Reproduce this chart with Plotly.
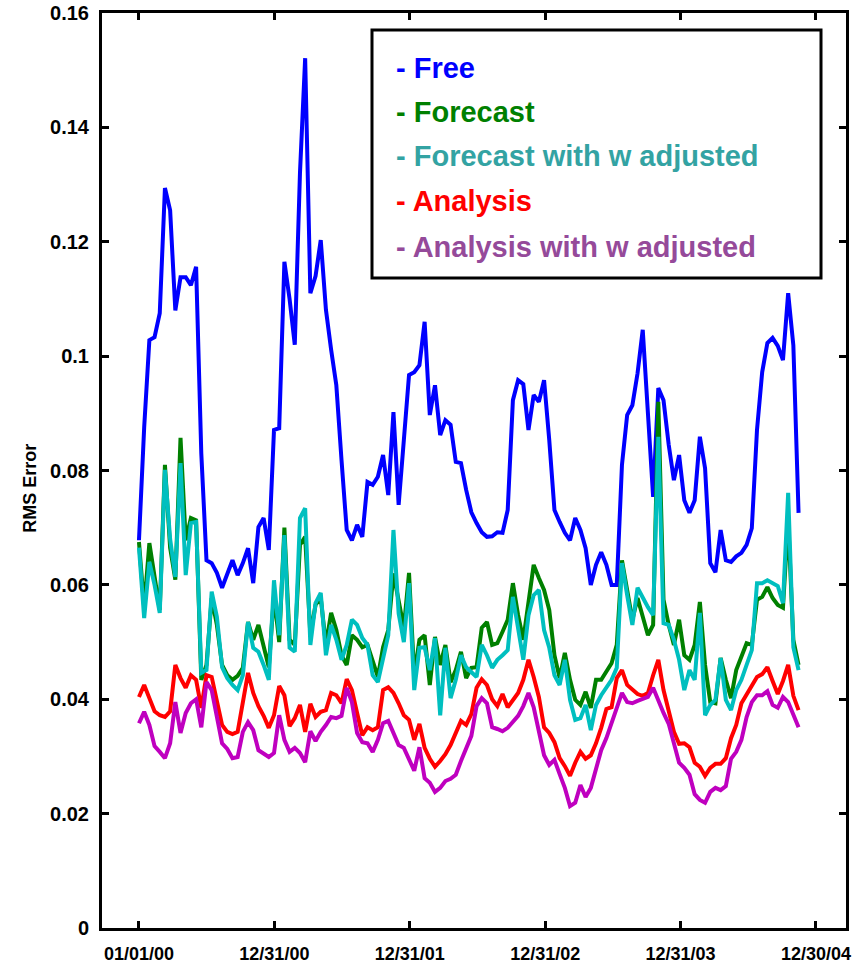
import pandas as pd
import plotly.graph_objects as go

# ---------------- data ----------------
start_date = "2000-01-01"
n_points = 128
step = "14D"
dates = pd.date_range(start_date, periods=n_points, freq=step)

free = [
    0.0678, 0.0875, 0.1028, 0.1033, 0.1075, 0.1294, 0.1255, 0.1080, 0.1138, 0.1138,
    0.1124, 0.1156, 0.0830, 0.0643, 0.0638, 0.0621, 0.0595, 0.0617, 0.0643, 0.0617,
    0.0638, 0.0664, 0.0603, 0.0701, 0.0717, 0.0661, 0.0871, 0.0874, 0.1165, 0.1100,
    0.1020, 0.1320, 0.1521, 0.1110, 0.1140, 0.1203, 0.1081, 0.1011, 0.0949, 0.0818,
    0.0696, 0.0678, 0.0705, 0.0684, 0.0780, 0.0775, 0.0789, 0.0827, 0.0757, 0.0902,
    0.0740, 0.0853, 0.0967, 0.0972, 0.0984, 0.1060, 0.0897, 0.0949, 0.0862, 0.0888,
    0.0880, 0.0815, 0.0813, 0.0766, 0.0727, 0.0708, 0.0692, 0.0684, 0.0685, 0.0692,
    0.0691, 0.0731, 0.0923, 0.0958, 0.0951, 0.0871, 0.0932, 0.0920, 0.0958, 0.0853,
    0.0731, 0.0710, 0.0691, 0.0678, 0.0717, 0.0696, 0.0664, 0.0600, 0.0635, 0.0657,
    0.0635, 0.0600, 0.0600, 0.0810, 0.0897, 0.0914, 0.0970, 0.1046, 0.0888, 0.0754,
    0.0944, 0.0923, 0.0845, 0.0783, 0.0827, 0.0748, 0.0726, 0.0748, 0.0859, 0.0804,
    0.0638, 0.0622, 0.0696, 0.0643, 0.0640, 0.0650, 0.0656, 0.0670, 0.0699, 0.0871,
    0.0972, 0.1023, 0.1032, 0.1018, 0.0993, 0.1110, 0.1019, 0.0726,
]

forecast = [
    0.0675, 0.0560, 0.0673, 0.0610, 0.0556, 0.0810, 0.0665, 0.0609, 0.0857, 0.0678,
    0.0717, 0.0713, 0.0434, 0.0460, 0.0577, 0.0530, 0.0460, 0.0442, 0.0434, 0.0441,
    0.0455, 0.0535, 0.0504, 0.0530, 0.0495, 0.0456, 0.0582, 0.0500, 0.0700, 0.0504,
    0.0495, 0.0670, 0.0684, 0.0512, 0.0565, 0.0577, 0.0495, 0.0551, 0.0521, 0.0477,
    0.0460, 0.0512, 0.0504, 0.0491, 0.0495, 0.0469, 0.0439, 0.0491, 0.0521, 0.0620,
    0.0570, 0.0525, 0.0621, 0.0442, 0.0504, 0.0512, 0.0425, 0.0509, 0.0460, 0.0495,
    0.0430, 0.0451, 0.0483, 0.0437, 0.0455, 0.0456, 0.0525, 0.0535, 0.0495, 0.0498,
    0.0518, 0.0539, 0.0603, 0.0547, 0.0504, 0.0574, 0.0635, 0.0612, 0.0591, 0.0556,
    0.0477, 0.0437, 0.0481, 0.0434, 0.0399, 0.0390, 0.0413, 0.0385, 0.0434, 0.0434,
    0.0448, 0.0463, 0.0495, 0.0643, 0.0591, 0.0539, 0.0577, 0.0547, 0.0512, 0.0530,
    0.0920, 0.0574, 0.0530, 0.0495, 0.0539, 0.0477, 0.0469, 0.0495, 0.0570, 0.0460,
    0.0395, 0.0393, 0.0472, 0.0434, 0.0402, 0.0451, 0.0477, 0.0498, 0.0495, 0.0574,
    0.0579, 0.0596, 0.0577, 0.0565, 0.0560, 0.0713, 0.0504, 0.0460,
]

forecast_w = [
    0.0665, 0.0542, 0.0640, 0.0600, 0.0551, 0.0801, 0.0680, 0.0614, 0.0813, 0.0617,
    0.0708, 0.0710, 0.0446, 0.0451, 0.0588, 0.0544, 0.0456, 0.0437, 0.0425, 0.0416,
    0.0442, 0.0535, 0.0490, 0.0483, 0.0460, 0.0434, 0.0608, 0.0512, 0.0687, 0.0490,
    0.0483, 0.0717, 0.0734, 0.0495, 0.0568, 0.0586, 0.0477, 0.0530, 0.0504, 0.0469,
    0.0495, 0.0539, 0.0530, 0.0507, 0.0495, 0.0442, 0.0430, 0.0469, 0.0512, 0.0696,
    0.0550, 0.0500, 0.0603, 0.0416, 0.0490, 0.0491, 0.0451, 0.0507, 0.0372, 0.0490,
    0.0402, 0.0434, 0.0477, 0.0456, 0.0448, 0.0439, 0.0495, 0.0477, 0.0455, 0.0469,
    0.0477, 0.0486, 0.0579, 0.0521, 0.0469, 0.0547, 0.0582, 0.0591, 0.0521, 0.0490,
    0.0442, 0.0425, 0.0469, 0.0399, 0.0364, 0.0367, 0.0390, 0.0346, 0.0390, 0.0407,
    0.0420, 0.0434, 0.0455, 0.0638, 0.0582, 0.0530, 0.0595, 0.0577, 0.0561, 0.0547,
    0.0859, 0.0533, 0.0530, 0.0504, 0.0469, 0.0416, 0.0451, 0.0434, 0.0551, 0.0372,
    0.0390, 0.0399, 0.0472, 0.0399, 0.0381, 0.0416, 0.0434, 0.0460, 0.0486, 0.0603,
    0.0603, 0.0608, 0.0603, 0.0598, 0.0568, 0.0761, 0.0491, 0.0451,
]

analysis = [
    0.0404, 0.0425, 0.0402, 0.0379, 0.0372, 0.0369, 0.0379, 0.0460, 0.0437, 0.0420,
    0.0442, 0.0434, 0.0385, 0.0442, 0.0439, 0.0399, 0.0355, 0.0343, 0.0339, 0.0343,
    0.0390, 0.0446, 0.0411, 0.0388, 0.0371, 0.0350, 0.0372, 0.0423, 0.0407, 0.0353,
    0.0367, 0.0390, 0.0343, 0.0392, 0.0369, 0.0378, 0.0381, 0.0411, 0.0407, 0.0393,
    0.0435, 0.0416, 0.0376, 0.0337, 0.0351, 0.0346, 0.0351, 0.0416, 0.0421, 0.0411,
    0.0393, 0.0372, 0.0364, 0.0329, 0.0357, 0.0315, 0.0296, 0.0282, 0.0292, 0.0304,
    0.0320, 0.0341, 0.0362, 0.0355, 0.0374, 0.0420, 0.0435, 0.0425, 0.0400, 0.0388,
    0.0409, 0.0386, 0.0399, 0.0411, 0.0434, 0.0469, 0.0439, 0.0404, 0.0351, 0.0341,
    0.0325, 0.0297, 0.0283, 0.0266, 0.0289, 0.0308, 0.0296, 0.0302, 0.0323, 0.0350,
    0.0383, 0.0386, 0.0437, 0.0451, 0.0425, 0.0418, 0.0409, 0.0406, 0.0411, 0.0442,
    0.0469, 0.0416, 0.0376, 0.0343, 0.0322, 0.0323, 0.0316, 0.0289, 0.0282, 0.0266,
    0.0280, 0.0287, 0.0287, 0.0297, 0.0332, 0.0355, 0.0393, 0.0409, 0.0423, 0.0439,
    0.0444, 0.0456, 0.0432, 0.0409, 0.0432, 0.0460, 0.0406, 0.0381,
]

analysis_w = [
    0.0358, 0.0378, 0.0355, 0.0318, 0.0308, 0.0297, 0.0323, 0.0395, 0.0341, 0.0376,
    0.0393, 0.0400, 0.0351, 0.0430, 0.0416, 0.0371, 0.0323, 0.0313, 0.0297, 0.0299,
    0.0343, 0.0360, 0.0346, 0.0311, 0.0304, 0.0299, 0.0306, 0.0372, 0.0329, 0.0308,
    0.0315, 0.0306, 0.0290, 0.0344, 0.0327, 0.0343, 0.0355, 0.0369, 0.0367, 0.0371,
    0.0420, 0.0395, 0.0341, 0.0325, 0.0323, 0.0308, 0.0329, 0.0358, 0.0362, 0.0341,
    0.0320, 0.0315, 0.0296, 0.0275, 0.0316, 0.0262, 0.0254, 0.0238, 0.0245, 0.0257,
    0.0261, 0.0268, 0.0292, 0.0313, 0.0336, 0.0388, 0.0402, 0.0393, 0.0351, 0.0348,
    0.0344, 0.0350, 0.0360, 0.0371, 0.0388, 0.0411, 0.0386, 0.0346, 0.0302, 0.0285,
    0.0294, 0.0269, 0.0245, 0.0213, 0.0219, 0.0250, 0.0229, 0.0245, 0.0276, 0.0311,
    0.0332, 0.0357, 0.0385, 0.0411, 0.0395, 0.0393, 0.0397, 0.0400, 0.0404, 0.0420,
    0.0397, 0.0376, 0.0357, 0.0320, 0.0289, 0.0280, 0.0268, 0.0234, 0.0224, 0.0219,
    0.0238, 0.0245, 0.0241, 0.0248, 0.0296, 0.0308, 0.0329, 0.0369, 0.0395, 0.0407,
    0.0407, 0.0414, 0.0390, 0.0385, 0.0404, 0.0395, 0.0372, 0.0351,
]

series_names = ["Free", "Forecast", "Forecast with w adjusted", "Analysis",
                "Analysis with w adjusted"]
series_values = [free, forecast, forecast_w, analysis, analysis_w]
line_colors = ["#0000FF", "#008000", "#00BFBF", "#FF0000", "#BF00BF"]
legend_colors = ["#0000FF", "#008000", "#33A3A3", "#FF0000", "#954A9A"]

x_tick_dates = ["2000-01-01", "2000-12-31", "2001-12-31", "2002-12-31",
                "2003-12-31", "2004-12-30"]
x_tick_labels = ["01/01/00", "12/31/00", "12/31/01", "12/31/02", "12/31/03", "12/30/04"]
y_tick_values = [0, 0.02, 0.04, 0.06, 0.08, 0.1, 0.12, 0.14, 0.16]
y_tick_labels = ["0", "0.02", "0.04", "0.06", "0.08", "0.1", "0.12", "0.14", "0.16"]

# ---------------- figure ----------------
FONT = "Liberation Sans, Arial, Helvetica, sans-serif"
fig = go.Figure()
for name, vals, col in zip(series_names, series_values, line_colors):
    fig.add_trace(go.Scatter(x=dates, y=vals, mode="lines", name=name,
                             line=dict(color=col, width=4)))

axis_common = dict(showline=True, linewidth=3, linecolor="black", mirror="allticks",
                   ticks="inside", ticklen=7, tickwidth=3, tickcolor="black",
                   showgrid=False, zeroline=False, automargin=False)

fig.update_xaxes(type="date", range=["1999-09-23 08:00", "2005-03-20 22:00"],
                 tickmode="array", tickvals=x_tick_dates, ticktext=x_tick_labels,
                 tickfont=dict(family=FONT, size=18, color="black", weight="bold"),
                 ticklabelstandoff=7, **axis_common)
fig.update_yaxes(range=[0, 0.16], tickmode="array", tickvals=y_tick_values,
                 ticktext=y_tick_labels,
                 tickfont=dict(family=FONT, size=20, color="black", weight="bold"),
                 ticklabelstandoff=6, **axis_common)

# legend box drawn like the original (coloured text lines)
fig.add_shape(type="rect", xref="paper", yref="paper", x0=0.3629, x1=0.9664,
              y0=0.7104, y1=0.9814, line=dict(color="black", width=3),
              fillcolor="white", layer="above")
legend_y = [0.9404, 0.8921, 0.8432, 0.7940, 0.7448]
for name, col, yy in zip(series_names, legend_colors, legend_y):
    fig.add_annotation(xref="paper", yref="paper", x=0.3925, y=yy, xanchor="left",
                       yanchor="middle", showarrow=False, text="- " + name,
                       font=dict(family=FONT, size=29, color=col, weight="bold"))

fig.add_annotation(xref="paper", yref="paper", x=-0.0968, y=0.481, xanchor="center",
                   yanchor="middle", showarrow=False, text="RMS Error", textangle=-90,
                   font=dict(family=FONT, size=18, color="black", weight="bold"))

fig.update_layout(template="none", width=862, height=966,
                  margin=dict(l=102, r=16, t=13, b=38),
                  plot_bgcolor="white", paper_bgcolor="white", showlegend=False)

fig.write_html("out.html")
